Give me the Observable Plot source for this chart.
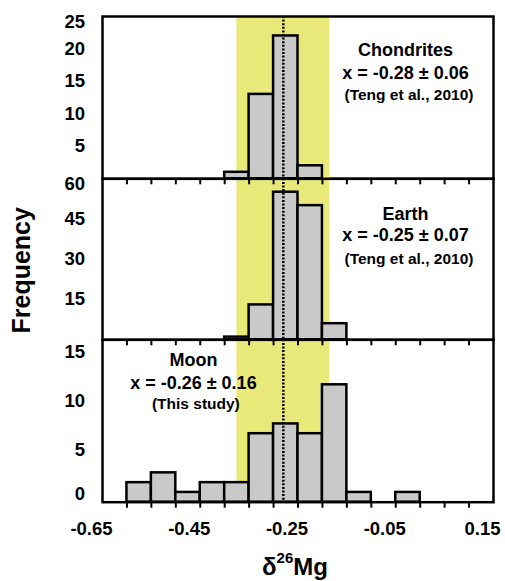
<!DOCTYPE html>
<html><head><meta charset="utf-8">
<script src="https://cdn.jsdelivr.net/npm/d3@7"></script>
<script src="https://cdn.jsdelivr.net/npm/@observablehq/plot@0.6"></script>
<style>
body{margin:0;background:#fff;}
#wrap{position:relative;width:505px;height:581px;overflow:hidden;font-family:"Liberation Sans",Arial,sans-serif;}
#wrap svg{position:absolute;left:0;top:0;}
#xlabel{position:absolute;left:295px;top:555px;transform:translateX(-50%);font-size:24px;font-weight:bold;line-height:24px;white-space:nowrap;color:#000;}
#xlabel sup{font-size:15px;vertical-align:12px;line-height:0;}
</style></head><body><div id="wrap"></div>
<script>
// ---- data ----
const binStart = [-0.60,-0.55,-0.50,-0.45,-0.40,-0.35,-0.30,-0.25,-0.20,-0.15,-0.10,-0.05];
const binWidth = 0.05;
const chondriteCounts = [0,0,0,0,1,13,22,2,0,0,0,0];
const earthCounts     = [0,0,0,0,1,13,55,50,6,0,0,0];
const moonCounts      = [2,3,1,2,2,7,8,7,12,1,0,1];
const xTicks = [-0.60,-0.55,-0.50,-0.45,-0.40,-0.35,-0.30,-0.25,-0.20,-0.15,-0.10,-0.05,0.00,0.05,0.10];
const xTickLabels = [-0.65,-0.45,-0.25,-0.05,0.15];
const xDomain = [-0.65, 0.15];
const chondriteYTicks = [5,10,15,20]; const chondriteYEdge = [25];
const earthYTicks = [15,30,45];       const earthYEdge = [60];
const moonYTicks = [5,10,15];         const moonYEdge = [0];
const chondriteYMax = 25, earthYMax = 60, moonYMax = 16.6;
const bandRange = [-0.375, -0.185];
const meanLine = [-0.28];
const chondriteNote = ["Chondrites", "x = -0.28 ± 0.06", "(Teng et al., 2010)"];
const earthNote = ["Earth", "x = -0.25 ± 0.07", "(Teng et al., 2010)"];
const moonNote = ["Moon", "x = -0.26 ± 0.16", "(This study)"];
const chondriteNoteX = [-0.03, -0.03, -0.023], chondriteNoteY = [19.77, 16.27, 12.83];
const earthNoteX = [-0.03, -0.03, -0.023], earthNoteY = [46.96, 38.87, 30.19];
const moonNoteX = [-0.464, -0.464, -0.459], moonNoteY = [14.49, 12.17, 9.99];
const yAxisTitle = "Frequency";

// ---- layout ----
const W = 505, H = 560;
const FONT = '"Liberation Sans", Arial, sans-serif';
const YELLOW = "#e9e97a", GRAY = "#c9c9c9";

function panel(cfg) {
  const bars = binStart.map((x, i) => ({x1: x, x2: x + binWidth, y: cfg.counts[i]})).filter(d => d.y > 0);
  const notes = cfg.note.map((t, i) => ({t, x: cfg.noteX[i], y: cfg.noteY[i], s: i === 2 ? 15.5 : 18}));
  const marks = [
    Plot.barX([bandRange], {x1: d => d[0], x2: d => d[1], fill: YELLOW}),
    Plot.rectY(bars, {x1: "x1", x2: "x2", y: "y", fill: GRAY, stroke: "black", strokeWidth: 2.5}),
    Plot.ruleX(meanLine, {stroke: "black", strokeWidth: 2.5, strokeDasharray: "2,1.6"}),
    Plot.frame({stroke: "black", strokeWidth: 2.5}),
    Plot.axisX(xTicks, {tickSize: 6, strokeWidth: 2, tickFormat: () => "", label: null}),
    Plot.axisY(cfg.yTicks, {tickSize: 0, tickPadding: 17.5, fontSize: 18.5, fontWeight: "bold", dy: cfg.yDy, label: null}),
    Plot.axisY(cfg.yEdge, {tickSize: 0, tickPadding: 17.5, fontSize: 18.5, fontWeight: "bold", dy: cfg.yEdgeDy, label: null}),
    Plot.text(notes, {x: "x", y: "y", text: "t", fontSize: d => d.s, fontWeight: "bold", fill: "black"})
  ];
  if (cfg.bottom) {
    marks.push(Plot.axisX(xTickLabels, {tickSize: 0, tickPadding: 20, dx: -11, fontSize: 18.5, fontWeight: "bold",
      tickFormat: d => d.toFixed(2), label: null}));
  }
  if (cfg.title) {
    marks.push(Plot.text([yAxisTitle], {frameAnchor: "left", textAnchor: "middle", dx: -80.7, dy: 11, rotate: -90,
      fontSize: 25, fontWeight: "bold", fill: "black"}));
  }
  return Plot.plot({
    width: W, height: H,
    marginLeft: 102, marginRight: 12,
    marginTop: cfg.top, marginBottom: H - cfg.bot,
    style: {background: "transparent", fontFamily: FONT, color: "black", overflow: "visible"},
    x: {domain: xDomain, axis: null},
    y: {domain: [0, cfg.yMax], axis: null},
    marks
  });
}

const wrap = document.getElementById("wrap");
const p3 = panel({counts: moonCounts, yMax: moonYMax, yTicks: moonYTicks, yEdge: moonYEdge, yDy: -3, yEdgeDy: -8,
  top: 339.3, bot: 501.7, note: moonNote, noteX: moonNoteX, noteY: moonNoteY, bottom: true});
const p2 = panel({counts: earthCounts, yMax: earthYMax, yTicks: earthYTicks, yEdge: earthYEdge, yDy: 0, yEdgeDy: 5,
  top: 178.3, bot: 339.3, note: earthNote, noteX: earthNoteX, noteY: earthNoteY, title: true});
const p1 = panel({counts: chondriteCounts, yMax: chondriteYMax, yTicks: chondriteYTicks, yEdge: chondriteYEdge, yDy: 0, yEdgeDy: 5.5,
  top: 16, bot: 178.3, note: chondriteNote, noteX: chondriteNoteX, noteY: chondriteNoteY});
wrap.append(p3, p2, p1);
const xl = document.createElement("div");
xl.id = "xlabel";
xl.innerHTML = "δ<sup>26</sup>Mg";
wrap.append(xl);
</script></body></html>
